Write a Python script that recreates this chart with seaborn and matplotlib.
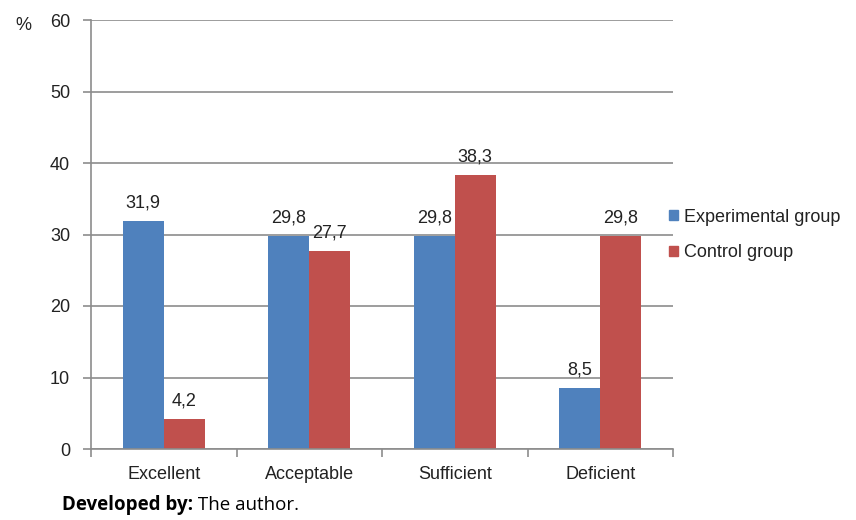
import matplotlib
matplotlib.use("Agg")
import matplotlib.pyplot as plt
import seaborn as sns
import pandas as pd

categories = ["Excellent", "Acceptable", "Sufficient", "Deficient"]
experimental = [31.9, 29.8, 29.8, 8.5]
control = [4.2, 27.7, 38.3, 29.8]
series_names = ["Experimental group", "Control group"]
y_ticks = [0, 10, 20, 30, 40, 50, 60]

df = pd.DataFrame({
    "category": categories * 2,
    "value": experimental + control,
    "group": [series_names[0]] * 4 + [series_names[1]] * 4,
})

sns.set_theme(style="white")
plt.rcParams["font.family"] = ["Liberation Sans", "DejaVu Sans"]

fig = plt.figure(figsize=(8.56, 5.2), dpi=100)
ax = fig.add_axes([91 / 856, 71 / 520, 582 / 856, 429 / 520])

palette = {series_names[0]: "#4F81BD", series_names[1]: "#C0504D"}
sns.barplot(data=df, x="category", y="value", hue="group", order=categories,
            hue_order=series_names, palette=palette, width=0.564, saturation=1,
            linewidth=0, ax=ax, legend=False)

# value labels with comma as decimal separator
for container in ax.containers:
    ax.bar_label(container, labels=[f"{v:.1f}".replace(".", ",") for v in container.datavalues],
                 padding=7, fontsize=13, color="#222222")

ax.set_ylim(0, 60)
ax.set_xlim(-0.5, 3.5)
ax.set_yticks(y_ticks)
ax.set_yticklabels([str(t) for t in y_ticks], fontsize=13, color="#222222")
ax.yaxis.grid(True, color="#8c8c8c", linewidth=1.2)
ax.set_axisbelow(True)
ax.set_xlabel("")
ax.set_ylabel("")
ax.tick_params(axis="x", length=0, labelsize=13, labelcolor="#222222", pad=12)
ax.tick_params(axis="y", length=6, width=1.2, color="#8c8c8c", left=True, pad=9)

# boundary tick marks between categories
ax.set_xticks([-0.5, 0.5, 1.5, 2.5, 3.5], minor=True)
ax.tick_params(axis="x", which="minor", length=6, width=1.2, color="#8c8c8c", bottom=True)

for side in ["top", "right"]:
    ax.spines[side].set_visible(False)
for side in ["left", "bottom"]:
    ax.spines[side].set_color("#8c8c8c")
    ax.spines[side].set_linewidth(1.2)

fig.text(23 / 856, 1 - 25 / 520, "%", fontsize=13, color="#222222", va="center", ha="center")

handles = [plt.Rectangle((0, 0), 1, 1, color=palette[n]) for n in series_names]
fig.legend(handles, series_names, loc="center left", bbox_to_anchor=(653 / 856, 1 - 235 / 520),
           frameon=False, fontsize=13, handlelength=0.5, handleheight=0.5,
           handletextpad=0.3, labelspacing=1.05, labelcolor="#222222")

# source note: bold lead-in followed by regular text
foot_y = 1 - 505 / 520
foot = fig.text(62 / 856, foot_y, "Developed by:", fontsize=13.5, fontweight="bold",
                family=["Open Sans", "DejaVu Sans"], va="center", color="black")
fig.canvas.draw()
bb = foot.get_window_extent()
fig.text(bb.x1 / fig.bbox.width, foot_y, " The author.", fontsize=13.5,
         family=["Open Sans", "DejaVu Sans"], va="center", color="black")

fig.savefig("out.png", dpi=100)
